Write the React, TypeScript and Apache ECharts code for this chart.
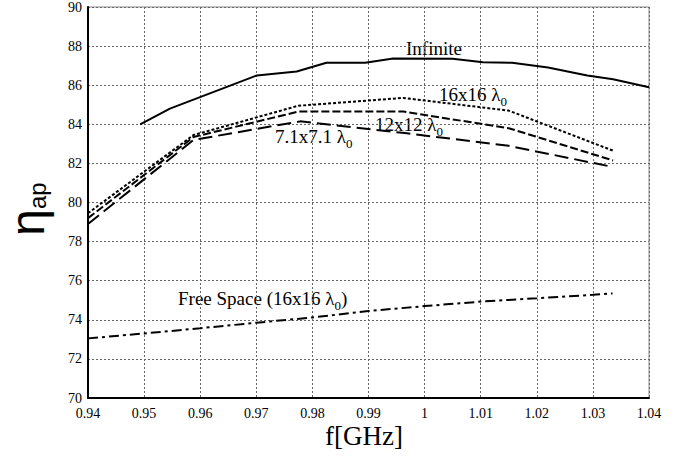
import React, { useEffect, useRef } from "react";
import * as echarts from "echarts";

// Frequency [GHz] and aperture efficiency values
const infiniteF = [0.9493, 0.9546, 0.9701, 0.9772, 0.9825, 0.9894, 0.9944, 1.005, 1.0104, 1.0156, 1.022, 1.029, 1.0336, 1.04];
const infiniteY = [84.0, 84.8, 86.5, 86.7, 87.15, 87.15, 87.37, 87.35, 87.17, 87.15, 86.9, 86.5, 86.3, 85.9];

const arrF = [0.94, 0.9588, 0.9775, 0.9962, 1.015, 1.0336];
const s16Y = [79.45, 83.45, 84.95, 85.35, 84.7, 82.65];
const s12Y = [79.2, 83.35, 84.65, 84.65, 83.8, 82.15];

const s7F = [0.94, 0.9588, 0.9778, 0.9965, 1.015, 1.033];
const s7Y = [78.9, 83.2, 84.15, 83.55, 82.9, 81.85];

const freeF = [0.94, 0.95, 0.96, 0.97, 0.98, 0.99, 1.0, 1.01, 1.02, 1.03, 1.0335];
const freeY = [73.05, 73.3, 73.57, 73.85, 74.12, 74.45, 74.7, 74.93, 75.1, 75.28, 75.35];

const xMin = 0.94, xMax = 1.04, xStep = 0.01;
const yMin = 70, yMax = 90, yStep = 2;

const seriesNames = ["Infinite", "16x16", "12x12", "7.1x7.1", "Free Space"];

const SERIF = "Liberation Serif";
const SANS = "Liberation Sans";

const pairs = (f: number[], y: number[]) => f.map((v, i) => [v, y[i]]);

const subRich = {
  n: { fontSize: 19, fontFamily: SERIF, color: "#000", lineHeight: 26 },
  s: { fontSize: 13, fontFamily: SERIF, color: "#000", lineHeight: 12, verticalAlign: "bottom" },
};

function label(x: number, y: number, text: string) {
  return {
    type: "text",
    x,
    y,
    style: {
      text,
      rich: subRich,
      align: "left",
      verticalAlign: "middle",
      fill: "#000",
      fontSize: 19,
      fontFamily: SERIF,
    },
  };
}

export default function App() {
  const ref = useRef<HTMLDivElement>(null);
  useEffect(() => {
    if (!ref.current) return;
    const chart = echarts.init(ref.current, undefined, { renderer: "svg" });
    const line = (name: string, data: number[][], type: any, width: number) => ({
      name,
      type: "line",
      data,
      symbol: "none",
      smooth: false,
      lineStyle: { color: "#000", width, type, cap: "butt" },
      z: 3,
    });
    chart.setOption({
      animation: false,
      backgroundColor: "#fff",
      textStyle: { fontFamily: SERIF },
      grid: {
        left: 88,
        right: 30,
        top: 7,
        bottom: 58,
        show: true,
        borderColor: "#8a8a8a",
        borderWidth: 1,
        backgroundColor: "transparent",
      },
      xAxis: {
        type: "value",
        min: xMin,
        max: xMax,
        interval: xStep,
        axisLine: { show: true, onZero: false, lineStyle: { color: "#000", width: 2 } },
        axisTick: { show: false },
        splitLine: { show: true, lineStyle: { color: "#666", width: 1, type: [2, 2] } },
        axisLabel: {
          color: "#000",
          fontFamily: SERIF,
          fontSize: 14,
          margin: 8,
          formatter: (v: number) => String(parseFloat(v.toFixed(2))),
        },
      },
      yAxis: {
        type: "value",
        min: yMin,
        max: yMax,
        interval: yStep,
        axisLine: { show: true, onZero: false, lineStyle: { color: "#000", width: 2 } },
        axisTick: { show: false },
        splitLine: { show: true, lineStyle: { color: "#666", width: 1, type: [2, 2] } },
        axisLabel: { color: "#000", fontFamily: SERIF, fontSize: 14, margin: 6 },
      },
      series: [
        line(seriesNames[0], pairs(infiniteF, infiniteY), "solid", 2),
        line(seriesNames[1], pairs(arrF, s16Y), [3, 2], 2),
        line(seriesNames[2], pairs(arrF, s12Y), [8, 3], 2),
        line(seriesNames[3], pairs(s7F, s7Y), [14, 6], 2),
        line(seriesNames[4], pairs(freeF, freeY), [10, 4, 3, 4], 2),
      ],
      graphic: [
        {
          type: "text",
          x: 406,
          y: 48.5,
          style: { text: "Infinite", fontSize: 19, fontFamily: SERIF, fill: "#000", align: "left", verticalAlign: "middle" },
        },
        label(439, 94.5, "{n|16x16 λ}{s|0}"),
        label(375, 124.5, "{n|12x12 λ}{s|0}"),
        label(275, 136.5, "{n|7.1x7.1 λ}{s|0}"),
        label(178, 298.5, "{n|Free Space (16x16 λ}{s|0}{n|)}"),
        {
          type: "text",
          x: 364,
          y: 436,
          style: { text: "f[GHz]", fontSize: 27, fontFamily: SERIF, fill: "#000", align: "center", verticalAlign: "middle" },
        },
        {
          type: "text",
          x: 27.5,
          y: 209,
          rotation: Math.PI / 2,
          style: {
            text: "{e|η}{a|ap}",
            align: "center",
            verticalAlign: "middle",
            fill: "#000",
            fontSize: 48,
            fontFamily: SANS,
            rich: {
              e: { fontSize: 48, fontFamily: SANS, color: "#000", lineHeight: 44 },
              a: { fontSize: 24, fontFamily: SANS, color: "#000", lineHeight: 9, verticalAlign: "bottom" },
            },
          },
        },
      ],
    });
    return () => chart.dispose();
  }, []);
  return <div ref={ref} style={{ width: 679, height: 456, position: "absolute", left: 0, top: 0 }} />;
}
